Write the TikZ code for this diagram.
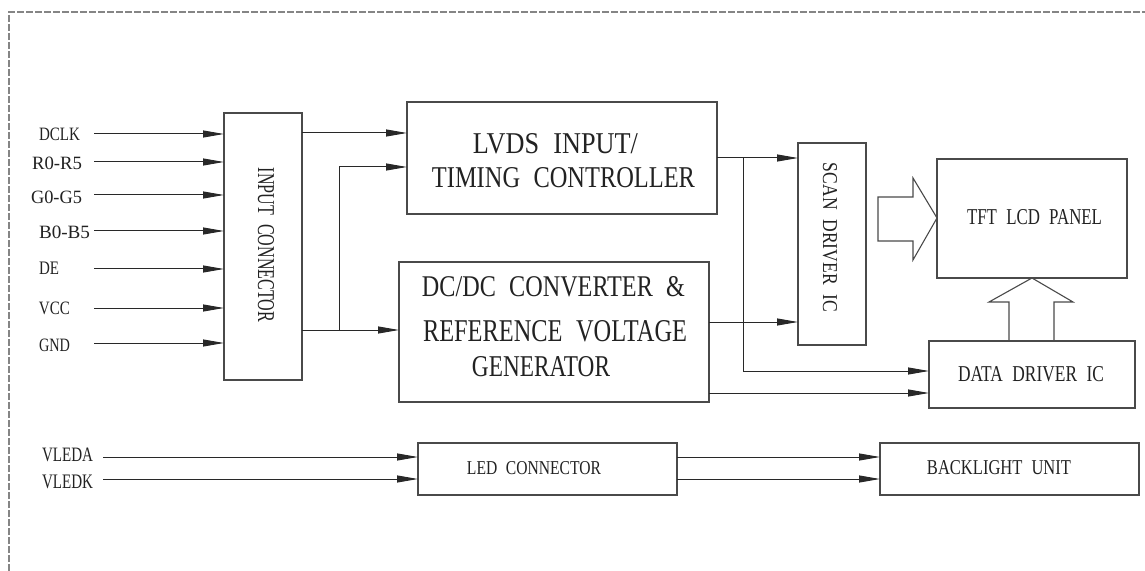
\documentclass[tikz,border=0pt]{standalone}
\usepackage{fontspec}
\setmainfont{Liberation Serif}
\usetikzlibrary{arrows.meta}
\definecolor{ln}{HTML}{282828}
\definecolor{bx}{HTML}{4A4A4A}
\definecolor{tx}{HTML}{222222}
\definecolor{fr}{HTML}{858585}
\newcommand{\fitx}[3]{\resizebox{#1bp}{#2bp}{\spaceskip=0.55em\relax #3}}
\begin{document}
\begin{tikzpicture}[x=1bp,y=-1bp,
  box/.style={draw=bx, line width=1.2bp, inner sep=0pt, outer sep=0pt},
  txt/.style={inner sep=0pt, outer sep=0pt, text=tx},
  conn/.style={draw=ln, line width=1bp, -{Triangle[length=21bp,width=7bp]}},
  hollow/.style={draw=bx, line width=1.1bp, line join=miter}
]
\useasboundingbox (0,0) rectangle (1145,571);
\fill[white] (0,0) rectangle (1145,571);
\draw[fr, line width=1.1bp, dash pattern=on 7bp off 2bp] (9,571) -- (9,12) -- (1145,12);

% boxes
\node[box, minimum width=78bp,  minimum height=267bp] (inc)  at (263,246.5) {};
\node[box, minimum width=310bp, minimum height=112bp] (lvds) at (562,158) {};
\node[box, minimum width=310bp, minimum height=140bp] (dcdc) at (554,332) {};
\node[box, minimum width=68bp,  minimum height=202bp] (scan) at (832,244) {};
\node[box, minimum width=190bp, minimum height=119bp] (tft)  at (1032,218.5) {};
\node[box, minimum width=206bp, minimum height=67bp]  (data) at (1032,374.5) {};
\node[box, minimum width=259bp, minimum height=52bp]  (led)  at (547.5,469) {};
\node[box, minimum width=259bp, minimum height=52bp]  (blu)  at (1009.5,469) {};

% box texts
\node[txt, rotate=-90] (tinc) at (266,245) {\fitx{154}{16}{INPUT CONNECTOR}};
\node[txt] (tl1) at (555.5,143.5) {\fitx{165}{20}{LVDS INPUT/}};
\node[txt] (tl2) at (563.5,178) {\fitx{263}{20}{TIMING CONTROLLER}};
\node[txt] (td1) at (553.5,287) {\fitx{263}{20}{DC/DC CONVERTER \&}};
\node[txt] (td2) at (555,331) {\fitx{264}{21}{REFERENCE VOLTAGE}};
\node[txt] (td3) at (541,367) {\fitx{138}{20}{GENERATOR}};
\node[txt, rotate=-90] (tscan) at (830,237.5) {\fitx{149}{14}{SCAN DRIVER IC}};
\node[txt] (ttft) at (1034.5,217.5) {\fitx{135}{15}{TFT LCD PANEL}};
\node[txt] (tdata) at (1031,374.5) {\fitx{146}{15}{DATA DRIVER IC}};
\node[txt] (tled) at (534,468.5) {\fitx{134}{13}{LED CONNECTOR}};
\node[txt] (tblu) at (999,468) {\fitx{144}{14}{BACKLIGHT UNIT}};

% input labels
\node[txt, anchor=west] (ldclk) at (39,134)   {\fitx{41}{12.5}{DCLK}};
\node[txt, anchor=west] (lr)    at (32,163.5) {\fitx{50}{12.5}{R0-R5}};
\node[txt, anchor=west] (lg)    at (31,197)   {\fitx{51}{12.5}{G0-G5}};
\node[txt, anchor=west] (lb)    at (39,232)   {\fitx{51}{12.5}{B0-B5}};
\node[txt, anchor=west] (lde)   at (39,268)   {\fitx{20}{12.5}{DE}};
\node[txt, anchor=west] (lvcc)  at (39,308)   {\fitx{31}{12.5}{VCC}};
\node[txt, anchor=west] (lgnd)  at (39,345)   {\fitx{31}{12.5}{GND}};
\node[txt, anchor=west] (lva)   at (42,455)   {\fitx{51}{13.5}{VLEDA}};
\node[txt, anchor=west] (lvk)   at (42,482)   {\fitx{51}{13.5}{VLEDK}};

% input arrow start points
\coordinate (sdclk) at (94,134);
\coordinate (sr)    at (94,162);
\coordinate (sg)    at (94,195);
\coordinate (sb)    at (94,231);
\coordinate (sde)   at (94,269);
\coordinate (svcc)  at (94,308);
\coordinate (sgnd)  at (94,343);
\coordinate (sva)   at (103,457);
\coordinate (svk)   at (103,479);
\foreach \s in {sdclk,sr,sg,sb,sde,svcc,sgnd}
  \draw[conn] (\s) -- (inc.west |- \s);
\foreach \s in {sva,svk}
  \draw[conn] (\s) -- (led.west |- \s);
\draw[conn] (led.east |- sva) -- (blu.west |- sva);
\draw[conn] (led.east |- svk) -- (blu.west |- svk);

% internal connectors
\coordinate (j1) at (339,330);
\coordinate (j2) at (743,158);
\draw[conn] (inc.east |- 0,133) -- (lvds.west |- 0,133);
\draw[conn] (inc.east |- j1) -- (dcdc.west |- j1);
\draw[conn] (j1) |- (lvds.west |- 0,167);
\draw[conn] (lvds.east |- j2) -- (scan.west |- j2);
\draw[conn] (j2) |- (data.west |- 0,371);
\draw[conn] (dcdc.east |- 0,322) -- (scan.west |- 0,322);
\draw[conn] (dcdc.east |- 0,393) -- (data.west |- 0,393);

% hollow arrows
\draw[hollow] (878,197) -- (913,197) -- (913,178) -- (tft.west |- 0,218) -- (913,260) -- (913,241) -- (878,241) -- cycle;
\draw[hollow] (data.north -| 1009,0) -- (1009,302) -- (989,302) -- (tft.south -| 1032,0) -- (1073,302) -- (1054,302) -- (data.north -| 1054,0);
\end{tikzpicture}
\end{document}
